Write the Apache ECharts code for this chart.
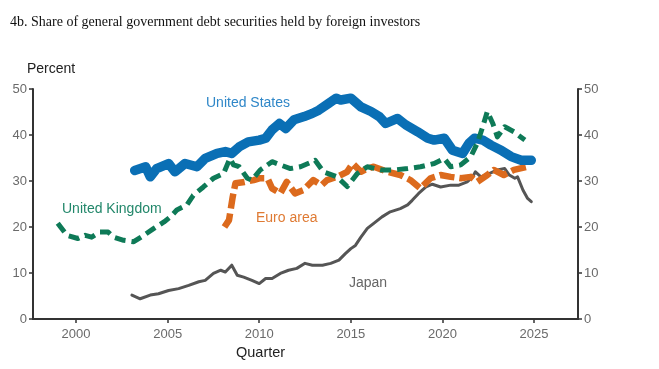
<!DOCTYPE html>
<html>
<head>
<meta charset="utf-8">
<script src="https://cdn.jsdelivr.net/npm/echarts@6/dist/echarts.min.js"></script>
<style>
html,body{margin:0;padding:0;background:#fff;}
#chart{width:659px;height:369px;}
</style>
</head>
<body>
<div id="chart"></div>
<script>
// ---- Data ----
var xTickYears = [2000, 2005, 2010, 2015, 2020, 2025];
var yTicks = [0, 10, 20, 30, 40, 50];

var usYears = [2003.2, 2003.8, 2004.05, 2004.4, 2005.05, 2005.4, 2005.95, 2006.6, 2007.05, 2007.7, 2008.15, 2008.5, 2008.9, 2009.4, 2010.0, 2010.35, 2010.7, 2011.1, 2011.45, 2011.9, 2012.45, 2012.9, 2013.25, 2013.8, 2014.2, 2014.45, 2015.0, 2015.55, 2016.1, 2016.55, 2016.9, 2017.55, 2018.0, 2018.65, 2019.2, 2019.55, 2020.1, 2020.55, 2021.1, 2021.45, 2021.75, 2022.2, 2022.65, 2023.2, 2023.75, 2024.3, 2024.85];
var usValues = [32.3, 33.1, 30.9, 32.7, 33.8, 32.0, 33.8, 33.1, 34.9, 36.0, 36.4, 36.0, 37.4, 38.5, 38.9, 39.3, 41.1, 42.5, 41.4, 43.3, 44.0, 44.7, 45.4, 46.9, 48.0, 47.6, 48.0, 46.1, 45.1, 44.0, 42.5, 43.6, 42.2, 40.7, 39.3, 38.9, 39.3, 36.7, 36.0, 38.2, 39.3, 38.9, 37.8, 36.7, 35.3, 34.5, 34.5];

var ukYears = [1999.0, 1999.5, 2000.1, 2000.5, 2000.85, 2001.3, 2001.75, 2002.05, 2002.6, 2003.15, 2003.7, 2004.25, 2004.8, 2005.15, 2005.5, 2006.05, 2006.4, 2006.95, 2007.5, 2008.05, 2008.4, 2008.6, 2008.9, 2009.35, 2009.6, 2010.05, 2010.7, 2011.15, 2011.7, 2012.25, 2012.9, 2013.05, 2013.5, 2014.25, 2014.8, 2015.35, 2015.9, 2016.65, 2017.35, 2018.1, 2018.8, 2019.55, 2020.1, 2020.45, 2021.0, 2021.55, 2021.9, 2022.2, 2022.45, 2022.75, 2023.0, 2023.4, 2023.9, 2024.5];
var ukValues = [20.8, 18.2, 17.5, 18.2, 17.8, 18.9, 18.9, 17.8, 17.1, 16.8, 18.2, 19.7, 21.1, 22.2, 23.7, 24.8, 26.9, 28.7, 30.6, 31.6, 34.9, 33.5, 33.1, 30.6, 30.2, 32.4, 34.2, 33.5, 32.7, 33.1, 34.2, 34.5, 32.0, 30.9, 28.8, 31.6, 33.1, 32.4, 32.4, 32.7, 33.1, 33.8, 34.9, 33.1, 33.5, 35.3, 38.2, 41.8, 45.1, 42.5, 39.6, 41.8, 40.7, 38.9];

var euYears = [2008.1, 2008.35, 2008.55, 2008.7, 2009.2, 2009.7, 2010.05, 2010.45, 2010.7, 2011.15, 2011.5, 2011.95, 2012.4, 2012.95, 2013.4, 2013.7, 2014.25, 2014.8, 2015.1, 2015.55, 2015.9, 2016.25, 2017.0, 2017.7, 2018.25, 2018.8, 2019.35, 2019.9, 2020.45, 2021.0, 2021.55, 2021.9, 2022.45, 2022.8, 2023.35, 2023.9, 2024.65];
var euValues = [20.0, 21.5, 26.5, 29.5, 29.8, 30.2, 30.6, 30.6, 28.4, 27.3, 29.8, 27.3, 28.0, 30.2, 29.1, 30.2, 30.9, 32.0, 33.8, 32.0, 32.7, 33.1, 32.0, 31.3, 30.2, 28.4, 30.6, 31.3, 30.9, 30.6, 30.9, 29.8, 31.3, 32.4, 31.3, 32.4, 33.1];

var jpYears = [2003.05, 2003.5, 2004.05, 2004.5, 2005.05, 2005.6, 2006.15, 2006.7, 2007.05, 2007.5, 2007.9, 2008.15, 2008.5, 2008.8, 2009.15, 2009.6, 2010.0, 2010.35, 2010.7, 2011.15, 2011.6, 2012.05, 2012.5, 2012.9, 2013.45, 2013.9, 2014.35, 2014.7, 2015.0, 2015.25, 2015.55, 2015.9, 2016.25, 2016.7, 2017.15, 2017.7, 2018.1, 2018.35, 2018.7, 2019.1, 2019.45, 2019.9, 2020.45, 2020.9, 2021.35, 2021.65, 2021.8, 2022.1, 2022.55, 2023.0, 2023.4, 2023.65, 2023.95, 2024.1, 2024.4, 2024.65, 2024.85];
var jpValues = [5.2, 4.4, 5.2, 5.5, 6.2, 6.6, 7.3, 8.1, 8.4, 9.9, 10.6, 10.2, 11.7, 9.5, 9.1, 8.4, 7.7, 8.8, 8.8, 9.9, 10.6, 11.0, 12.1, 11.7, 11.7, 12.1, 12.8, 14.2, 15.3, 16.0, 17.8, 19.7, 20.8, 22.2, 23.3, 24.0, 24.8, 25.8, 27.3, 28.7, 29.3, 28.7, 29.1, 29.1, 29.8, 30.9, 32.0, 30.9, 31.6, 32.4, 32.7, 31.3, 30.6, 30.9, 28.0, 26.2, 25.5];

function pairs(xs, ys) { return xs.map(function (x, i) { return [x, ys[i]]; }); }

var SANS = '"Liberation Sans", Arial, Helvetica, sans-serif';
var chart = echarts.init(document.getElementById('chart'), null, {renderer: 'canvas'});

var axisLineStyle = {color: '#333', width: 2};
var tickStyle = {show: true, length: 4, lineStyle: {color: '#333', width: 1.5}};
var labelStyle = {color: '#6a6a6a', fontSize: 13, fontFamily: SANS};

chart.setOption({
  animation: false,
  backgroundColor: '#fff',
  grid: {left: 33, right: 81, top: 89, bottom: 50, containLabel: false},
  xAxis: {
    type: 'value', min: 1997.65, max: 2027.4,
    axisLine: {show: true, onZero: false, lineStyle: axisLineStyle},
    axisTick: Object.assign({customValues: xTickYears}, tickStyle),
    axisLabel: Object.assign({customValues: xTickYears, margin: 9,
      formatter: function (v) { return String(Math.round(v)); }}, labelStyle),
    splitLine: {show: false}
  },
  yAxis: [
    {type: 'value', position: 'left', min: 0, max: 50, interval: 10,
     axisLine: {show: true, lineStyle: axisLineStyle},
     axisTick: tickStyle,
     axisLabel: Object.assign({margin: 6}, labelStyle),
     splitLine: {show: false}},
    {type: 'value', position: 'right', min: 0, max: 50, interval: 10,
     axisLine: {show: true, lineStyle: axisLineStyle},
     axisTick: tickStyle,
     axisLabel: Object.assign({margin: 6}, labelStyle),
     splitLine: {show: false}}
  ],
  series: [
    {name: 'Japan', type: 'line', data: pairs(jpYears, jpValues), showSymbol: false,
     lineStyle: {color: '#555', width: 3, join: 'round', cap: 'round'}, z: 2},
    {name: 'Euro area', type: 'line', data: pairs(euYears, euValues), showSymbol: false,
     lineStyle: {color: '#dc6a1d', width: 6.5, type: [15, 5], join: 'round'}, z: 3},
    {name: 'United States', type: 'line', data: pairs(usYears, usValues), showSymbol: false,
     lineStyle: {color: '#0a6fb5', width: 9.5, join: 'round', cap: 'round'}, z: 4},
    {name: 'United Kingdom', type: 'line', data: pairs(ukYears, ukValues), showSymbol: false,
     lineStyle: {color: '#0e7a57', width: 5, type: [11, 6], join: 'round'}, z: 5}
  ],
  graphic: [
    {type: 'text', left: 10, top: 15, style: {text: '4b. Share of general government debt securities held by foreign investors',
      font: '14px "Liberation Serif", "Times New Roman", serif', fill: '#111'}},
    {type: 'text', left: 27, top: 62, style: {text: 'Percent', font: '14px ' + SANS, fill: '#222'}},
    {type: 'text', left: 236, top: 345, style: {text: 'Quarter', font: '14.5px ' + SANS, fill: '#222'}},
    {type: 'text', left: 206, top: 96, style: {text: 'United States', font: '14px ' + SANS, fill: '#2f87c8'}},
    {type: 'text', left: 62, top: 202, style: {text: 'United Kingdom', font: '14px ' + SANS, fill: '#22876a'}},
    {type: 'text', left: 256, top: 211, style: {text: 'Euro area', font: '14px ' + SANS, fill: '#df7a33'}},
    {type: 'text', left: 349, top: 276, style: {text: 'Japan', font: '14px ' + SANS, fill: '#666'}}
  ]
});
</script>
</body>
</html>
